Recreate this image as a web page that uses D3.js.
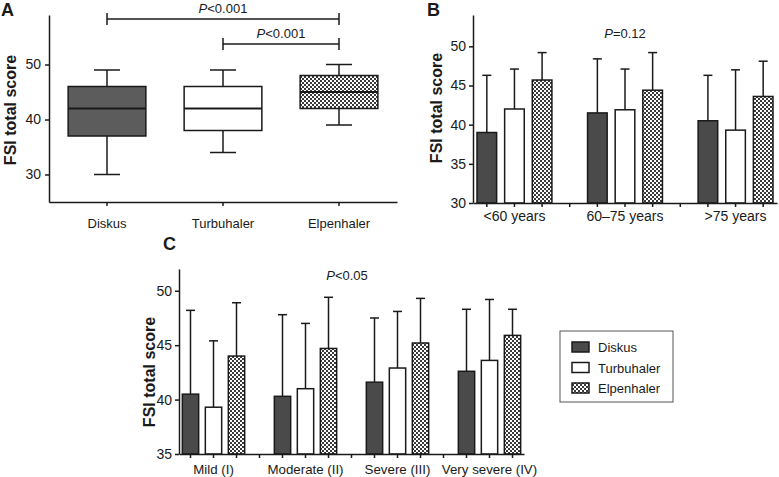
<!DOCTYPE html>
<html><head><meta charset="utf-8">
<script src="https://cdnjs.cloudflare.com/ajax/libs/d3/7.8.5/d3.min.js"></script>
<style>
body{margin:0;background:#fff;}
svg{display:block;font-family:"Liberation Sans",Arial,sans-serif;}
.axis path,.axis line{stroke:#1a1a1a;stroke-width:1.5;}
.axis text{font-size:13px;fill:#1a1a1a;font-family:"Liberation Sans",Arial,sans-serif;}
.axis.yax text{font-size:14px;}
</style></head>
<body>
<svg id="chart" width="779" height="477"></svg>
<script>
// ---------------- DATA ----------------
const seriesNames = ["Diskus", "Turbuhaler", "Elpenhaler"];

// Panel A: box plots
const boxCategories = ["Diskus", "Turbuhaler", "Elpenhaler"];
const boxMin    = [30, 34, 39];
const boxQ1     = [37, 38, 42];
const boxMedian = [42, 42, 45];
const boxQ3     = [46, 46, 48];
const boxMax    = [49, 49, 50];
const boxTicks  = [30, 40, 50];
const boxPLabels = ["<0.001", "<0.001"];

// Panel B: by age
const ageGroups = ["<60 years", "60\u201375 years", ">75 years"];
const ageMeanDiskus      = [39.0, 41.5, 40.5];
const ageMeanTurbuhaler  = [42.0, 41.9, 39.3];
const ageMeanElpenhaler  = [45.7, 44.4, 43.6];
const ageUpperDiskus     = [46.3, 48.4, 46.3];
const ageUpperTurbuhaler = [47.1, 47.1, 47.0];
const ageUpperElpenhaler = [49.2, 49.2, 48.1];
const ageTicks = [30, 35, 40, 45, 50];

// Panel C: by severity
const sevGroups = ["Mild (I)", "Moderate (II)", "Severe (III)", "Very severe (IV)"];
const sevMeanDiskus      = [40.5, 40.3, 41.6, 42.6];
const sevMeanTurbuhaler  = [39.3, 41.0, 42.9, 43.6];
const sevMeanElpenhaler  = [44.0, 44.7, 45.2, 45.9];
const sevUpperDiskus     = [48.2, 47.8, 47.5, 48.3];
const sevUpperTurbuhaler = [45.4, 47.0, 48.1, 49.2];
const sevUpperElpenhaler = [48.9, 49.4, 49.3, 48.3];
const sevTicks = [35, 40, 45, 50];

// ---------------- DRAWING ----------------
const svg = d3.select("#chart");
const FONT = '"Liberation Sans",Arial,sans-serif';
const INK = "#1a1a1a";

// checkered pattern
const defs = svg.append("defs");
const pat = defs.append("pattern").attr("id", "checks")
  .attr("patternUnits", "userSpaceOnUse").attr("width", 4).attr("height", 4);
pat.append("rect").attr("width", 4).attr("height", 4).attr("fill", "#fff");
pat.append("rect").attr("width", 2).attr("height", 2).attr("fill", "#3a3a3a");
pat.append("rect").attr("x", 2).attr("y", 2).attr("width", 2).attr("height", 2).attr("fill", "#3a3a3a");

const fills = {Diskus: "#4a4a4a", Turbuhaler: "#ffffff", Elpenhaler: "url(#checks)"};
const boxFills = {Diskus: "#5c5c5c", Turbuhaler: "#ffffff", Elpenhaler: "url(#checks)"};

function yLabel(x, y) {
  svg.append("text").attr("transform", `translate(${x},${y}) rotate(-90)`)
    .attr("text-anchor", "middle").attr("font-size", 16).attr("font-weight", "bold")
    .attr("fill", INK).attr("font-family", FONT).text("FSI total score");
}
function panelLabel(x, y, t) {
  svg.append("text").attr("x", x).attr("y", y).attr("font-size", 18).attr("font-weight", "bold")
    .attr("fill", INK).attr("font-family", FONT).text(t);
}
function pText(x, y, rest) {
  const t = svg.append("text").attr("x", x).attr("y", y).attr("text-anchor", "middle")
    .attr("font-size", 13).attr("fill", INK).attr("font-family", FONT);
  t.append("tspan").attr("font-style", "italic").text("P");
  t.append("tspan").text(rest);
}

// ===== Panel A =====
{
  const x = d3.scaleBand().domain(boxCategories).range([49, 397]);
  const y = d3.scaleLinear().domain([25, 59]).range([202, 15]);
  const g = svg.append("g");
  g.append("g").attr("class", "axis yax").attr("transform", "translate(49,0)")
    .call(d3.axisLeft(y).tickValues(boxTicks).tickSize(4).tickSizeOuter(0).tickPadding(4));
  g.append("g").attr("class", "axis").attr("transform", "translate(0,202)")
    .call(d3.axisBottom(x).tickSize(4).tickSizeOuter(0).tickPadding(13));
  const bw = x.bandwidth() * 0.67, cw = 26;
  boxCategories.forEach((c, i) => {
    const cx = x(c) + x.bandwidth() / 2;
    const bg = g.append("g").attr("stroke", INK).attr("stroke-width", 1.5);
    bg.append("line").attr("x1", cx).attr("x2", cx).attr("y1", y(boxMin[i])).attr("y2", y(boxMax[i]));
    bg.append("line").attr("x1", cx - cw / 2).attr("x2", cx + cw / 2).attr("y1", y(boxMin[i])).attr("y2", y(boxMin[i]));
    bg.append("line").attr("x1", cx - cw / 2).attr("x2", cx + cw / 2).attr("y1", y(boxMax[i])).attr("y2", y(boxMax[i]));
    bg.append("rect").attr("x", cx - bw / 2).attr("width", bw)
      .attr("y", y(boxQ3[i])).attr("height", y(boxQ1[i]) - y(boxQ3[i]))
      .attr("fill", boxFills[c]);
    bg.append("line").attr("x1", cx - bw / 2).attr("x2", cx + bw / 2)
      .attr("y1", y(boxMedian[i])).attr("y2", y(boxMedian[i])).attr("stroke-width", 2);
  });
  // significance brackets
  const cxOf = c => x(c) + x.bandwidth() / 2;
  const br = [
    {a: "Diskus", b: "Elpenhaler", yy: 19, ty: 13, p: boxPLabels[0]},
    {a: "Turbuhaler", b: "Elpenhaler", yy: 44, ty: 38, p: boxPLabels[1]}
  ];
  br.forEach(d => {
    const bgp = g.append("g").attr("stroke", INK).attr("stroke-width", 1.5);
    bgp.append("line").attr("x1", cxOf(d.a)).attr("x2", cxOf(d.b)).attr("y1", d.yy).attr("y2", d.yy);
    bgp.append("line").attr("x1", cxOf(d.a)).attr("x2", cxOf(d.a)).attr("y1", d.yy - 6).attr("y2", d.yy + 6);
    bgp.append("line").attr("x1", cxOf(d.b)).attr("x2", cxOf(d.b)).attr("y1", d.yy - 6).attr("y2", d.yy + 6);
    pText((cxOf(d.a) + cxOf(d.b)) / 2, d.ty, d.p);
  });
  yLabel(16, 110);
  panelLabel(1, 16, "A");
}

// ===== generic grouped bar panel =====
function barPanel(groups, means, uppers, ticks, domain, xr, yr, labelGap, labelSize) {
  const slots = [];
  groups.forEach((gname, gi) => {
    seriesNames.forEach(s => slots.push(gi + "|" + s));
    if (gi < groups.length - 1) slots.push(gi + "|sep");
  });
  const x = d3.scaleBand().domain(slots).range(xr);
  const y = d3.scaleLinear().domain(domain).range(yr);
  const g = svg.append("g");
  const bw = x.bandwidth() * 0.71;
  groups.forEach((gname, gi) => {
    seriesNames.forEach((s, si) => {
      const cx = x(gi + "|" + s) + x.bandwidth() / 2;
      const m = means[si][gi], u = uppers[si][gi];
      const eg = g.append("g").attr("stroke", INK).attr("stroke-width", 1.5);
      eg.append("line").attr("x1", cx).attr("x2", cx).attr("y1", y(m)).attr("y2", y(u));
      eg.append("line").attr("x1", cx - 4.5).attr("x2", cx + 4.5).attr("y1", y(u)).attr("y2", y(u));
      eg.append("rect").attr("x", cx - bw / 2).attr("width", bw)
        .attr("y", y(m)).attr("height", y(domain[0]) - y(m)).attr("fill", fills[s]);
    });
  });
  g.append("g").attr("class", "axis yax").attr("transform", `translate(${xr[0]},0)`)
    .call(d3.axisLeft(y).tickValues(ticks).tickSize(4).tickSizeOuter(0).tickPadding(3));
  g.append("g").attr("class", "axis").attr("transform", `translate(0,${yr[0]})`)
    .call(d3.axisBottom(x).tickSize(4).tickSizeOuter(0).tickFormat(""));
  groups.forEach((gname, gi) => {
    g.append("text").attr("x", x(gi + "|" + seriesNames[1]) + x.bandwidth() / 2)
      .attr("y", yr[0] + labelGap).attr("text-anchor", "middle").attr("font-size", labelSize)
      .attr("fill", INK).attr("font-family", FONT).text(gname);
  });
  return {x, y};
}

// ===== Panel B =====
barPanel(ageGroups,
  [ageMeanDiskus, ageMeanTurbuhaler, ageMeanElpenhaler],
  [ageUpperDiskus, ageUpperTurbuhaler, ageUpperElpenhaler],
  ageTicks, [30, 54], [473, 777], [203, 15], 18, 14);
pText(625, 38, "=0.12");
yLabel(442, 108);
panelLabel(427, 16, "B");

// ===== Panel C =====
barPanel(sevGroups,
  [sevMeanDiskus, sevMeanTurbuhaler, sevMeanElpenhaler],
  [sevUpperDiskus, sevUpperTurbuhaler, sevUpperElpenhaler],
  sevTicks, [35, 52], [179, 524], [454, 269], 20, 13.3);
pText(347, 280, "<0.05");
yLabel(155, 372);
panelLabel(163, 250, "C");

// ===== Legend =====
{
  const lg = svg.append("g");
  lg.append("rect").attr("x", 560).attr("y", 331).attr("width", 113).attr("height", 71)
    .attr("fill", "#fff").attr("stroke", "#555").attr("stroke-width", 1);
  const ly = d3.scalePoint().domain(seriesNames).range([347, 388]);
  seriesNames.forEach(s => {
    lg.append("rect").attr("x", 572).attr("y", ly(s) - 5).attr("width", 17).attr("height", 10)
      .attr("fill", fills[s]).attr("stroke", INK).attr("stroke-width", 1.5);
    lg.append("text").attr("x", 598).attr("y", ly(s) + 5).attr("font-size", 13)
      .attr("fill", INK).attr("font-family", FONT).text(s);
  });
}
</script>
</body></html>
